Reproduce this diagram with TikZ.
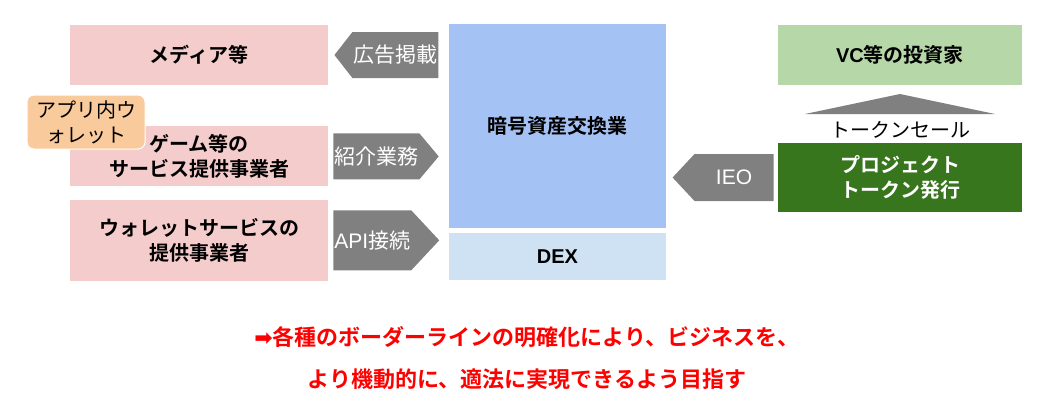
\documentclass[tikz,border=0pt]{standalone}
\usepackage{fontspec}
\setmainfont{Noto Sans CJK JP}[BoldFont={Noto Sans CJK JP Bold}]
\newfontfamily\latinfont{Liberation Sans}
\newfontfamily\symbfont{DejaVu Sans}
\usetikzlibrary{positioning,shapes.symbols}
\definecolor{partnerpink}{HTML}{F4CCCC}
\definecolor{exchblue}{HTML}{A4C2F4}
\definecolor{dexblue}{HTML}{CFE2F3}
\definecolor{investgreen}{HTML}{B6D7A8}
\definecolor{projgreen}{HTML}{38761D}
\definecolor{flowgray}{HTML}{808080}
\definecolor{walletorange}{HTML}{F9CB9C}
\definecolor{goalred}{HTML}{FF0000}
\begin{document}
\begin{tikzpicture}[x=1pt,y=-1pt,every node/.style={font=\fontsize{20pt}{25pt}\selectfont},
box/.style={fill=partnerpink,align=center,minimum width=258pt,font=\fontsize{20pt}{25pt}\selectfont\bfseries},
tag/.style={signal,fill=flowgray,text=white,minimum width=104pt,inner sep=1pt,font=\fontsize{21pt}{25pt}\selectfont}]
\useasboundingbox (0,0) rectangle (1048,410);
% partners on the left
\node[box,minimum height=60pt] (media) at (199,55) {メディア等};
\node[box,minimum height=60pt,below=41pt of media] (game) {ゲーム等の\\サービス提供事業者};
\node[box,minimum height=81pt,below=13pt of game] (wallet) {ウォレットサービスの\\提供事業者};
\node[fill=walletorange,draw=white,line width=1pt,rounded corners=7pt,align=center,minimum width=118pt,minimum height=54pt,inner sep=1pt] (appwallet) at (86,122) {アプリ内ウ\\ォレット};
\node[tag,signal to=west,signal pointer angle=104,minimum height=46pt,right=6pt of media] (ad) {広告掲載};
\node[tag,signal to=east,signal pointer angle=100,minimum height=46pt,right=5pt of game] (intro) {紹介業務};
\node[tag,signal to=east,signal pointer angle=94,minimum height=60pt,right=5pt of wallet] (api) {{\latinfont API}接続};
% exchange
\node[fill=exchblue,minimum width=217pt,minimum height=204pt,font=\fontsize{20pt}{25pt}\selectfont\bfseries] (exch) at (557.5,126) {暗号資産交換業};
\node[fill=dexblue,minimum width=217pt,minimum height=47pt,below=5pt of exch,font=\fontsize{20pt}{25pt}\latinfont\bfseries] (dex) {DEX};
% project side
\node[fill=investgreen,minimum width=244pt,minimum height=60pt,font=\fontsize{20pt}{25pt}\selectfont\bfseries] (vc) at (900,55) {{\latinfont VC}等の投資家};
\node[fill=projgreen,text=white,align=center,minimum width=244pt,minimum height=69pt,font=\fontsize{20pt}{25pt}\selectfont\bfseries] (proj) at (900,177.5) {プロジェクト\\トークン発行};
\node (sale) at (900,130) {トークンセール};
\fill[flowgray] (805,114) -- (900,94) -- (995,114) -- cycle;
\node[tag,signal to=west,signal pointer angle=94,minimum width=101pt,minimum height=47pt,left=4pt of proj,font=\fontsize{21pt}{25pt}\latinfont] (ieo) {IEO};
% conclusion
\node[text=goalred,align=center,font=\fontsize{22pt}{42pt}\selectfont\bfseries] (goal) at (527,358) {{\symbfont\bfseries ➡}各種のボーダーラインの明確化により、ビジネスを、\\より機動的に、適法に実現できるよう目指す};
\end{tikzpicture}
\end{document}
